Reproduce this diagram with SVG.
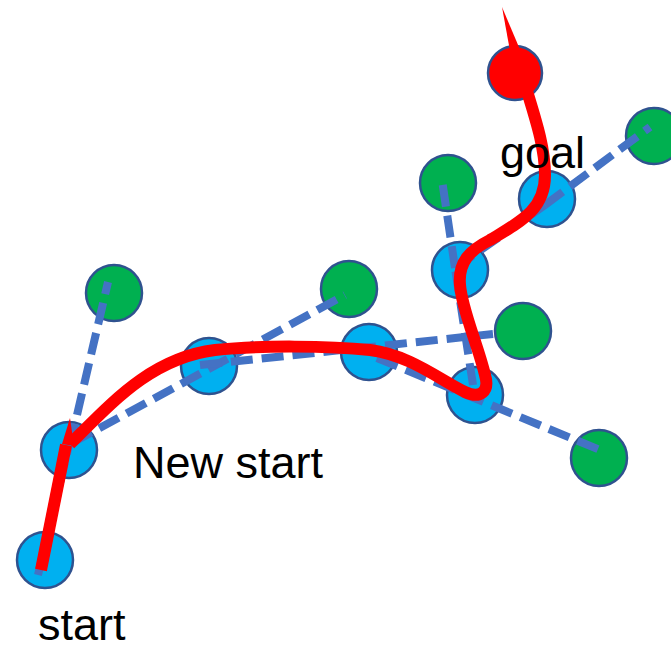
<svg xmlns="http://www.w3.org/2000/svg" width="671" height="651" viewBox="0 0 671 651">
<style>
.n{stroke:#2F528F;stroke-width:2.5}
.b{fill:#00B0F0}
.g{fill:#00B050}
.r{fill:#FF0000}
.e{stroke:#4472C4;stroke-width:8;stroke-dasharray:22 9;fill:none}
.p{stroke:#FF0000;stroke-width:12;fill:none;stroke-linejoin:round}
.t{font-family:"Liberation Sans",Arial,sans-serif;font-size:45px;fill:#000}
</style>
<rect width="671" height="651" fill="#fff"/>
<g id="node-start"><circle class="n b" cx="45" cy="560" r="28"/></g>
<g id="node-newstart"><circle class="n b" cx="69" cy="450" r="28"/></g>
<g id="node-g1"><circle class="n g" cx="114" cy="293" r="28"/></g>
<g id="node-b2"><circle class="n b" cx="209" cy="366" r="28"/></g>
<g id="node-g2"><circle class="n g" cx="349" cy="289" r="28"/></g>
<g id="node-b3"><circle class="n b" cx="369" cy="352" r="28"/></g>
<g id="node-g3"><circle class="n g" cx="523" cy="331" r="28"/></g>
<g id="node-b4"><circle class="n b" cx="475" cy="395" r="28"/></g>
<g id="node-g4"><circle class="n g" cx="599" cy="458" r="28"/></g>
<g id="node-b5"><circle class="n b" cx="460" cy="270" r="28"/></g>
<g id="node-g5"><circle class="n g" cx="448" cy="183" r="28"/></g>
<g id="node-b6"><circle class="n b" cx="547" cy="199" r="28"/></g>
<g id="node-g6"><circle class="n g" cx="654" cy="136" r="28"/></g>
<g id="node-goal"><circle class="n r" cx="515" cy="73" r="27"/></g>
<g id="connectors">
<path class="e" d="M38,575 L69,445"/>
<path class="e" d="M70,445 L108,282"/>
<path class="e" d="M72,443 L345,295"/>
<path class="e" d="M200,365 L493,334"/>
<path class="e" d="M377,358 L600,450"/>
<path class="e" d="M473,385 L455,268"/>
<path class="e" d="M455,268 L442,180"/>
<path class="e" d="M455,268 L545,205"/>
<path class="e" d="M545,205 L650,127"/>
<path class="p" d="M41,570 L66,445" style="stroke-linecap:butt"/>
<polygon class="r" points="62,444 70,418 74,446"/>
<path class="p" d="M70,444 C110,405 150,358 215,350 C260,345 330,346 370,350 C410,355 440,380 465,392 C480,399 490,392 485,375 C478,345 462,310 460,285 C458,262 470,250 490,240 C520,222 545,210 545,175 C545,140 530,105 518,60"/>
<polygon class="r" points="512,62 502,7 524,59"/>
</g>
<text class="t" x="500" y="168">goal</text>
<text class="t" x="133" y="478">New start</text>
<text class="t" x="38" y="640">start</text>
</svg>
